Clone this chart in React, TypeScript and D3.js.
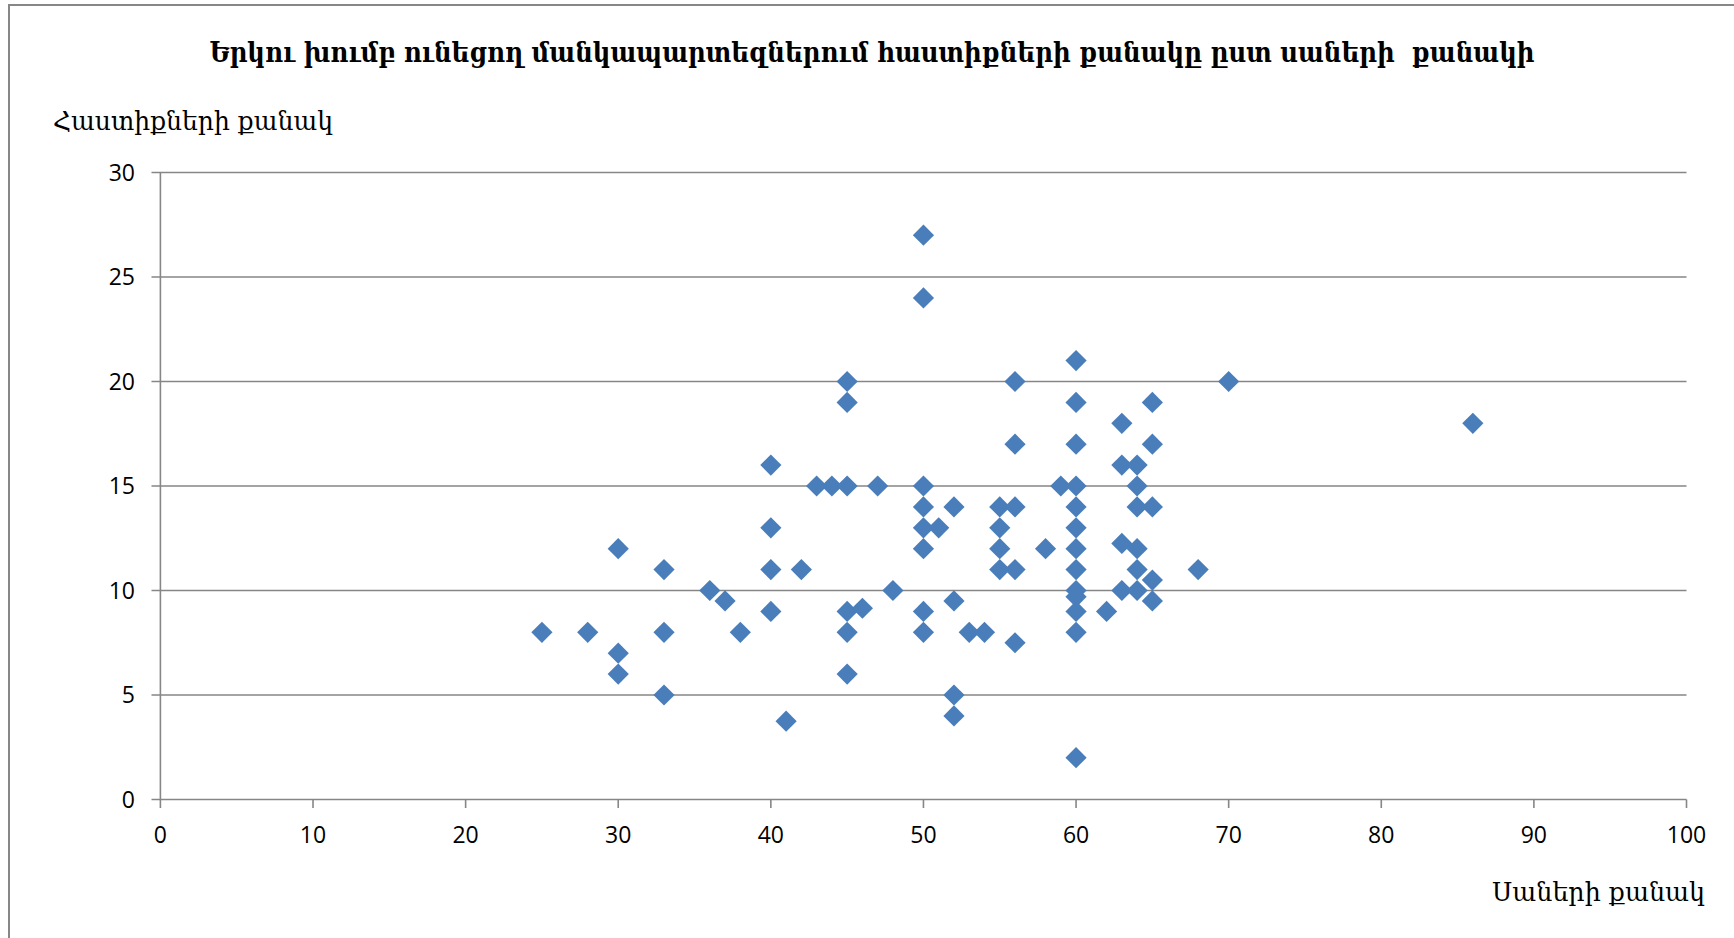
import React from "react";
import * as d3 from "d3";

const title = "Երկու խումբ ունեցող մանկապարտեզներում հաստիքների քանակը ըստ սաների  քանակի";
const yAxisTitle = "Հաստիքների քանակ";
const xAxisTitle = "Սաների քանակ";

// number of pupils (x) and number of staff positions (y)
const pupils = [
  25, 28, 30, 30, 30, 33, 33, 33, 36, 37, 38,
  40, 40, 40, 40, 41, 42, 43, 44, 45, 45, 45, 45, 45, 45, 46, 47, 48,
  50, 50, 50, 50, 50, 50, 50, 50, 51, 52, 52, 52, 52, 53, 54,
  55, 55, 55, 55, 56, 56, 56, 56, 56, 58, 59,
  60, 60, 60, 60, 60, 60, 60, 60, 60, 60, 60, 60, 60, 62,
  63, 63, 63, 63, 64, 64, 64, 64, 64, 64, 65, 65, 65, 65, 65, 68, 70, 86,
];
const staff = [
  8, 8, 12, 7, 6, 11, 8, 5, 10, 9.5, 8,
  16, 13, 11, 9, 3.75, 11, 15, 15, 15, 20, 19, 9, 8, 6, 9.15, 15, 10,
  27, 24, 15, 14, 13, 12, 9, 8, 13, 14, 9.5, 5, 4, 8, 8,
  14, 13, 12, 11, 20, 17, 14, 11, 7.5, 12, 15,
  21, 19, 17, 15, 14, 13, 12, 11, 10, 9.7, 8, 2, 9, 9,
  18, 16, 12.25, 10, 16, 15, 14, 12, 11, 10, 19, 17, 14, 10.5, 9.5, 11, 20, 18,
];

const xTicks = [0, 10, 20, 30, 40, 50, 60, 70, 80, 90, 100];
const yTicks = [0, 5, 10, 15, 20, 25, 30];

export default function App() {
  const W = 1734;
  const H = 938;
  const x = d3.scaleLinear().domain([0, 100]).range([160.4, 1686.5]);
  const y = d3.scaleLinear().domain([0, 30]).range([799.5, 172.5]);
  const diamond = d3.symbol().type(d3.symbolSquare).size(225)();
  const gridColor = "#868686";
  const points = pupils.map((p, i) => ({ x: p, y: staff[i] }));

  return (
    <svg
      width={W}
      height={H}
      style={{ position: "absolute", left: 0, top: 0, display: "block", background: "#fff" }}
    >
      <rect x={0} y={0} width={W} height={H} fill="#fff" />
      {/* chart border */}
      <line x1={9} y1={5} x2={W} y2={5} stroke="#878787" strokeWidth={2} />
      <line x1={9} y1={4} x2={9} y2={H} stroke="#878787" strokeWidth={2} />

      <text
        x={872}
        y={62}
        textAnchor="middle"
        fontFamily="'DejaVu Serif', serif"
        fontWeight="bold"
        fontSize={27}
        textLength={1325}
        lengthAdjust="spacingAndGlyphs"
        style={{ whiteSpace: "pre" }}
        fill="#000"
      >
        {title}
      </text>

      <text
        x={53}
        y={130}
        fontFamily="'DejaVu Serif', serif"
        fontSize={26}
        textLength={280}
        lengthAdjust="spacingAndGlyphs"
        fill="#000"
      >
        {yAxisTitle}
      </text>

      <text
        x={1705}
        y={901}
        textAnchor="end"
        fontFamily="'DejaVu Serif', serif"
        fontSize={26}
        textLength={213}
        lengthAdjust="spacingAndGlyphs"
        fill="#000"
      >
        {xAxisTitle}
      </text>

      {/* gridlines and y ticks */}
      {yTicks.map((t) => (
        <g key={"y" + t}>
          <line
            x1={151.5}
            x2={x(100)}
            y1={y(t)}
            y2={y(t)}
            stroke={gridColor}
            strokeWidth={1.6}
          />
          <text
            x={135}
            y={y(t)}
            dy="0.36em"
            textAnchor="end"
            fontFamily="'Open Sans', 'Liberation Sans', sans-serif"
            fontSize={23}
            fill="#000"
          >
            {t}
          </text>
        </g>
      ))}

      {/* y axis line */}
      <line x1={x(0)} x2={x(0)} y1={y(30)} y2={y(0)} stroke={gridColor} strokeWidth={1.6} />

      {/* x ticks */}
      {xTicks.map((t) => (
        <g key={"x" + t}>
          <line
            x1={x(t)}
            x2={x(t)}
            y1={y(0)}
            y2={y(0) + 8.5}
            stroke={gridColor}
            strokeWidth={1.6}
          />
          <text
            x={x(t)}
            y={843}
            textAnchor="middle"
            fontFamily="'Open Sans', 'Liberation Sans', sans-serif"
            fontSize={23}
            fill="#000"
          >
            {t}
          </text>
        </g>
      ))}

      {/* points */}
      {points.map((d, i) => (
        <path
          key={i}
          d={diamond || ""}
          transform={`translate(${x(d.x)},${y(d.y)}) rotate(45)`}
          fill="#4a7ebb"
        />
      ))}
    </svg>
  );
}
